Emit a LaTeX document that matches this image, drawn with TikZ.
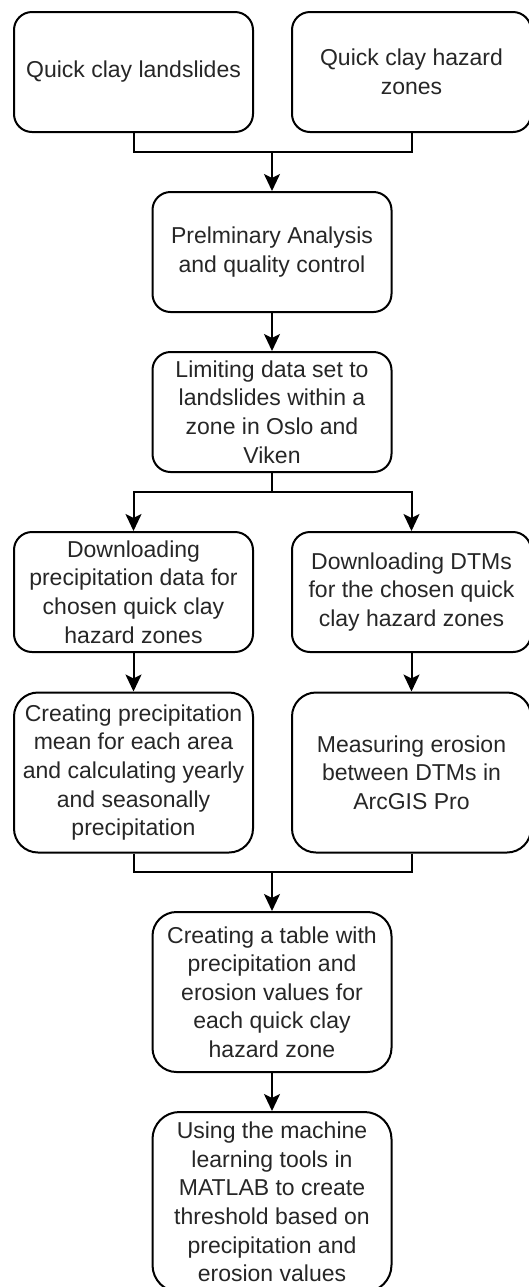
\documentclass[tikz,border=0pt]{standalone}
\usepackage{fontspec}
\setmainfont{Liberation Sans}
\usetikzlibrary{arrows.meta}

\tikzset{
  stepbox/.style={draw, rounded corners=#1, line width=1pt, align=center,
    minimum width=119.5pt, minimum height=60pt, inner sep=0pt,
    text=black!85, font=\fontsize{11.5}{14.3}\selectfont},
  stepbox/.default=9pt,
  flow/.style={line width=1pt, -{Stealth[length=8.5pt, width=8pt, inset=2pt]}}
}

\begin{document}
\begin{tikzpicture}[x=0.5pt, y=-0.5pt]
      \useasboundingbox (0,0) rectangle (529,1287);
      \clip (0,0) rectangle (529,1287);

      % Draw the steps
      \node[stepbox] (slides) at (133.5,72) {Quick clay landslides};
      \node[stepbox] (zones) at (411.5,72) {Quick clay hazard\\zones};
      \node[stepbox] (prelim) at (272,252) {Prelminary Analysis\\and quality control};
      \node[stepbox] (limit) at (272,412) {Limiting data set to\\landslides within a\\zone in Oslo and\\Viken};
      \node[stepbox] (dlprec) at (133.5,592) {Downloading\\precipitation data for\\chosen quick clay\\hazard zones};
      \node[stepbox] (dldtm) at (411.5,592) {Downloading DTMs\\for the chosen quick\\clay hazard zones};
      \node[stepbox=12pt, minimum height=80pt] (mean) at (133.5,772.5) {Creating precipitation\\mean for each area\\and calculating yearly\\and seasonally\\precipitation};
      \node[stepbox=12pt, minimum height=80pt] (erosion) at (411.5,772.5) {Measuring erosion\\between DTMs in\\ArcGIS Pro};
      \node[stepbox=12pt, minimum height=80pt] (table) at (272,992) {Creating a table with\\precipitation and\\erosion values for\\each quick clay\\hazard zone};
      \node[stepbox=13.5pt, minimum height=90pt] (matlab) at (272,1202) {Using the machine\\learning tools in\\MATLAB to create\\threshold based on\\precipitation and\\erosion values};

      % Draw the junctions
      \coordinate (join1) at (272,152);
      \coordinate (split) at (272,492);
      \coordinate (join2) at (272,872);

      % Draw the connectors
      \draw[line width=1pt] (slides.south) |- (join1);
      \draw[line width=1pt] (zones.south) |- (join1);
      \draw[flow] (join1) -- (prelim.north);
      \draw[flow] (prelim) -- (limit);
      \draw[line width=1pt] (limit.south) -- (split);
      \draw[flow] (split) -| (dlprec.north);
      \draw[flow] (split) -| (dldtm.north);
      \draw[flow] (dlprec) -- (mean);
      \draw[flow] (dldtm) -- (erosion);
      \draw[line width=1pt] (mean.south) |- (join2);
      \draw[line width=1pt] (erosion.south) |- (join2);
      \draw[flow] (join2) -- (table.north);
      \draw[flow] (table) -- (matlab);
    \end{tikzpicture}
\end{document}
